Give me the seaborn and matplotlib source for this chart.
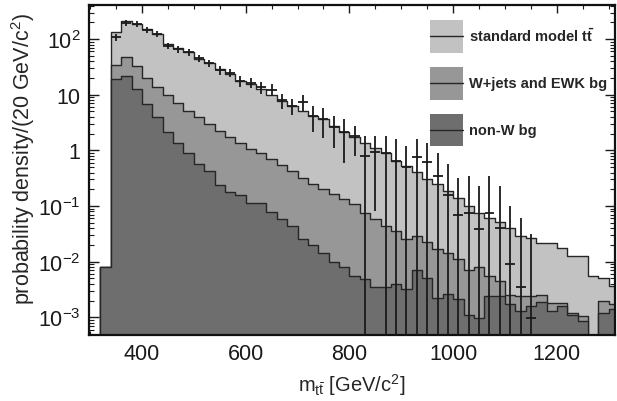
import matplotlib

matplotlib.use("Agg")
import matplotlib.pyplot as plt
import numpy as np
import pandas as pd
import seaborn as sns
from matplotlib.legend_handler import HandlerBase
from matplotlib.lines import Line2D
from matplotlib.patches import Patch, Rectangle
from matplotlib.ticker import FixedFormatter, FixedLocator, LogLocator, MultipleLocator, NullFormatter

# 20 GeV bins from 320 to 1320 GeV/c^2
bin_edges = np.arange(320, 1321, 20)
bin_centers = bin_edges[:-1] + 10

# stacked heights (cumulative): ttbar + W+jets + non-W
total_sm = [
    0.0079, 132, 214, 186, 151, 123, 83, 68, 58, 44,
    37, 29, 23.4, 17.8, 15.5, 12.6, 9.8, 7.8, 6.3, 5.1,
    4.2, 3.6, 2.7, 2.14, 1.74, 1.38, 1.12, 0.91, 0.65, 0.52,
    0.41, 0.30, 0.25, 0.186, 0.141, 0.102, 0.076, 0.062, 0.051, 0.041,
    0.029, 0.027, 0.022, 0.022, 0.0178, 0.0126, 0.0126, 0.0055, 0.0050, 0.0036,
]
# W+jets + non-W
wjets_nonw = [
    0.0079, 34, 47, 33, 20.4, 13.8, 9.8, 7.2, 5.1, 3.9,
    3.0, 2.24, 1.74, 1.38, 1.05, 0.91, 0.69, 0.54, 0.43, 0.32,
    0.245, 0.20, 0.162, 0.132, 0.107, 0.076, 0.058, 0.044, 0.035, 0.026,
    0.029, 0.023, 0.0166, 0.0145, 0.011, 0.0071, 0.0079, 0.0056, 0.0045, 0.0025,
    0.0024, 0.00245, 0.0025, 0.0018, 0.00178, 0.00117, 0.00107, 0.0, 0.0020, 0.00174,
]
# non-W only
non_w = [
    0.0079, 19, 22, 12.6, 6.8, 3.9, 2.14, 1.38, 0.89, 0.56,
    0.43, 0.24, 0.178, 0.155, 0.115, 0.115, 0.079, 0.058, 0.044, 0.026,
    0.0195, 0.0145, 0.0098, 0.0079, 0.0055, 0.0048, 0.0035, 0.0035, 0.0039, 0.0032,
    0.0072, 0.0050, 0.0022, 0.0026, 0.0021, 0.0011, 0.00098, 0.0024, 0.0024, 0.0017,
    0.0013, 0.0016, 0.0019, 0.0013, 0.0016, 0.0011, 0.00085, 0.0, 0.0012, 0.0014,
]

# data points, bins 1..41
data_values = [
    107, 195, 186, 145, 123, 76, 66, 58, 45, 37,
    28, 25, 17.8, 16.6, 13.5, 12.3, 7.9, 6.3, 7.4, 4.2,
    3.7, 2.6, 2.1, 1.8, 0.79, 0.95, 0.91, 0.65, 0.50, 0.76,
    0.62, 0.35, 0.16, 0.068, 0.076, 0.038, 0.076, 0.041, 0.0089, 0.0035,
    0.00095,
]
data_errors = [
    15, 25, 22, 18, 15, 10, 9, 8, 7, 6,
    5, 4.5, 3.8, 3.5, 3.2, 3.0, 2.3, 2.0, 2.4, 2.1,
    2.0, 1.5, 1.5, 1.0, 1.03, 0.87, 0.91, 0.93, 0.70, 0.86,
    0.76, 0.56, 0.40, 0.25, 0.27, 0.19, 0.27, 0.19, 0.093, 0.058,
    0.031,
]

labels = [r"standard model $\mathbf{t\bar{t}}$", "W+jets and EWK bg", "non-W bg"]
fill_colors = ["#c2c2c2", "#979797", "#6e6e6e"]
line_color = "#262626"


class HandlerFillLine(HandlerBase):
    # filled box with a horizontal line through the middle, ROOT style
    def create_artists(self, legend, orig_handle, xdescent, ydescent, width, height, fontsize, trans):
        box = Rectangle(
            (-xdescent, -ydescent), width, height,
            facecolor=orig_handle.get_facecolor(), edgecolor="none", transform=trans,
        )
        mid = -ydescent + height / 2
        line = Line2D([-xdescent, -xdescent + width], [mid, mid], color=line_color, lw=1.0, transform=trans)
        return [box, line]


sns.set_theme(style="ticks")
plt.rcParams["font.family"] = ["Liberation Sans", "DejaVu Sans"]
plt.rcParams["mathtext.fontset"] = "custom"
plt.rcParams["mathtext.rm"] = "Liberation Sans"
plt.rcParams["mathtext.it"] = "Liberation Sans:italic"
plt.rcParams["mathtext.bf"] = "Liberation Sans:bold"

fig = plt.figure(figsize=(6.17, 4.02), dpi=100)
ax = fig.add_axes([0.1442, 0.1642, 0.8526, 0.8208])

for heights, color in zip([total_sm, wjets_nonw, non_w], fill_colors):
    layer = pd.DataFrame({"m": bin_centers, "w": heights})
    sns.histplot(
        data=layer,
        x="m",
        weights="w",
        binwidth=20,
        binrange=(320, 1320),
        element="step",
        fill=True,
        color=color,
        alpha=1,
        edgecolor=line_color,
        linewidth=1.0,
        ax=ax,
    )

vals = np.array(data_values)
errs = np.array(data_errors)
low = np.where(errs >= vals, vals * (1 - 1e-6), errs)
ax.errorbar(
    bin_centers[1:42],
    vals,
    yerr=[low, errs],
    xerr=9.5,
    fmt="none",
    ecolor="#1a1a1a",
    elinewidth=1.3,
    capsize=0,
    zorder=5,
)

ax.set_yscale("log")
ax.set_xlim(298, 1312)
ax.set_ylim(4.8e-4, 410)

ax.xaxis.set_major_locator(MultipleLocator(200))
ax.xaxis.set_minor_locator(MultipleLocator(50))
y_ticks = [1e-3, 1e-2, 1e-1, 1, 10, 100]
y_labels = [r"$10^{-3}$", r"$10^{-2}$", r"$10^{-1}$", "1", "10", r"$10^{2}$"]
ax.yaxis.set_major_locator(FixedLocator(y_ticks))
ax.yaxis.set_major_formatter(FixedFormatter(y_labels))
ax.yaxis.set_minor_locator(LogLocator(base=10, subs=np.arange(2, 10)))
ax.yaxis.set_minor_formatter(NullFormatter())

ax.tick_params(which="both", direction="in", top=True, right=True, labelsize=15.5, colors="#1a1a1a")
ax.tick_params(axis="y", which="major", length=7, width=1.0, pad=6)
ax.tick_params(axis="y", which="minor", length=3.5, width=0.8)
ax.tick_params(axis="x", which="major", length=6, width=1.0, pad=6)
ax.tick_params(axis="x", which="minor", length=3, width=0.8)
for side in ["left", "right", "top", "bottom"]:
    ax.spines[side].set_linewidth(1.6)
    ax.spines[side].set_color("#111111")

ax.set_xlabel(r"m$_{\mathrm{t\bar{t}}}$ [GeV/c$^{2}$]", fontsize=14.5, labelpad=5)
ax.set_ylabel(r"probability density/(20 GeV/c$^{2}$)", fontsize=15.5)
ax.yaxis.set_label_coords(-0.099, 0.536)

handles = [Patch(facecolor=c) for c in fill_colors]
fig.legend(
    handles,
    labels,
    handler_map={Patch: HandlerFillLine()},
    loc="upper left",
    bbox_to_anchor=(0.697, 0.948),
    frameon=False,
    borderpad=0,
    borderaxespad=0,
    handlelength=2.26,
    handleheight=3.1,
    labelspacing=0.95,
    handletextpad=0.4,
    prop={"weight": "bold", "size": 10.5},
)

fig.savefig("out.png", dpi=100)
